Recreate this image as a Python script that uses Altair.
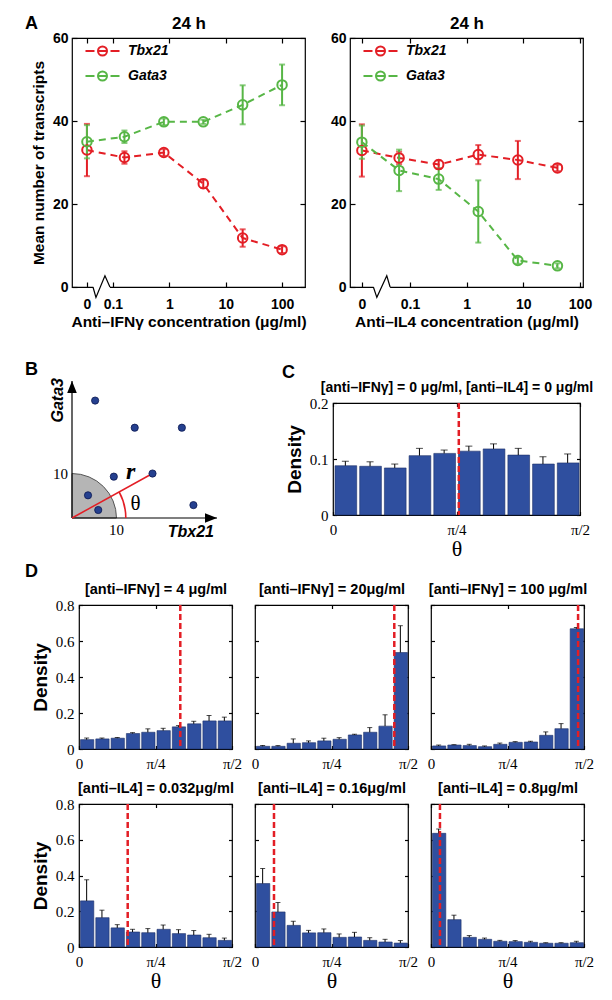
import math
import altair as alt
import pandas as pd

SANS = "Liberation Sans"
SERIF = "Liberation Serif"
RED = "#e31e25"
GREEN = "#57b646"
BLUE = "#2f4f9f"
BLUE_EDGE = "#1c2f66"
DOT = "#25408f"
PI = math.pi

# ---------------- Panel A data ----------------
genes = ["Tbx21", "Gata3"]
gene_colors = [RED, GREEN]
ifng_conc = [0, 0.16, 0.8, 4, 20, 100]
ifng_tbx21 = [33.0, 31.2, 32.4, 24.9, 11.8, 9.0]
ifng_tbx21_err = [6.3, 1.5, 0.8, 1.0, 2.1, 0.8]
ifng_gata3 = [35.0, 36.2, 39.8, 39.8, 43.9, 48.7]
ifng_gata3_err = [4.0, 1.5, 0.8, 0.5, 4.7, 4.9]

il4_conc = [0, 0.064, 0.32, 1.6, 8, 40]
il4_tbx21 = [32.9, 31.1, 29.5, 31.9, 30.6, 28.7]
il4_tbx21_err = [6.3, 1.5, 1.0, 2.3, 4.6, 0.8]
il4_gata3 = [34.9, 28.1, 26.0, 18.2, 6.4, 5.1]
il4_gata3_err = [4.0, 5.0, 2.6, 7.5, 0.8, 0.6]

a_xticks = [0.1, 1, 10, 100]
a_yticks = [0, 20, 40, 60]
# position of the "0" concentration on the broken log axis, and axis extents
ifng_zero, ifng_xdomain = 0.0346, [0.0188, 255]
il4_zero, il4_xdomain = 0.0141, [0.0087, 113]
# zig-zag axis break
ifng_break_x = [0.0443, 0.050, 0.0722, 0.0885]
il4_break_x = [0.0225, 0.0259, 0.0388, 0.0444]
break_y = [0, -2.5, 2.7, 0]

# ---------------- Panel B data (schematic) ----------------
b_cell_x = [5.2, 14.1, 24.7, 9.4, 18.1, 3.6, 5.9, 27.3]
b_cell_y = [26.4, 20.3, 20.3, 9.3, 10.0, 5.1, 1.8, 2.9]
b_r_cell = [18.1, 10.0]
b_x_end, b_y_end = 32.6, 30.8
b_disc_radius = 10
b_arc_radius = 12.1

# ---------------- Panels C and D data ----------------
c_density = [0.088, 0.087, 0.084, 0.106, 0.110, 0.114, 0.118, 0.107, 0.091, 0.093]
c_err = [0.008, 0.008, 0.007, 0.013, 0.006, 0.009, 0.009, 0.012, 0.013, 0.016]
c_mode = 0.80

d_titles = ["[anti–IFNγ] = 4 μg/ml", "[anti–IFNγ] = 20μg/ml", "[anti–IFNγ] = 100 μg/ml",
            "[anti–IL4] = 0.032μg/ml", "[anti–IL4] = 0.16μg/ml", "[anti–IL4] = 0.8μg/ml"]
d_density = [
    [0.052, 0.056, 0.060, 0.086, 0.093, 0.102, 0.123, 0.140, 0.156, 0.156],
    [0.015, 0.015, 0.032, 0.035, 0.045, 0.054, 0.078, 0.093, 0.127, 0.536],
    [0.017, 0.022, 0.019, 0.013, 0.026, 0.037, 0.039, 0.076, 0.113, 0.668],
    [0.258, 0.164, 0.107, 0.084, 0.080, 0.099, 0.075, 0.067, 0.052, 0.037],
    [0.355, 0.196, 0.121, 0.079, 0.080, 0.054, 0.056, 0.037, 0.028, 0.022],
    [0.636, 0.153, 0.054, 0.043, 0.032, 0.030, 0.026, 0.021, 0.021, 0.024],
]
d_err = [
    [0.009, 0.005, 0.004, 0.005, 0.019, 0.013, 0.007, 0.014, 0.030, 0.021],
    [0.005, 0.004, 0.024, 0.010, 0.015, 0.009, 0.004, 0.026, 0.063, 0.149],
    [0.005, 0.002, 0.007, 0.004, 0.007, 0.004, 0.004, 0.019, 0.028, 0.007],
    [0.118, 0.042, 0.018, 0.015, 0.023, 0.024, 0.022, 0.025, 0.019, 0.013],
    [0.084, 0.053, 0.023, 0.014, 0.021, 0.019, 0.026, 0.015, 0.015, 0.014],
    [0.024, 0.025, 0.010, 0.007, 0.005, 0.006, 0.006, 0.003, 0.003, 0.008],
]
d_mode = [1.04, 1.43, 1.51, 0.50, 0.195, 0.092]

theta_ticks = [0, PI / 4, PI / 2]
theta_expr = "datum.value < 0.1 ? '0' : (datum.value < 1 ? 'π/4' : 'π/2')"


def letter(text, dx, dy):
    return alt.TitleParams(text=text, anchor="start", frame="group", dx=dx, dy=dy, offset=0,
                           baseline="alphabetic", font=SANS, fontSize=18, fontWeight="bold",
                           color="black")


# ---------------- Panel A ----------------
TA = 5
LEG_PATH = "M-3.78,0L-1.78,0M1.78,0L3.78,0M-1,0L1,0M-1,0A1,1,0,1,1,1,0A1,1,0,1,1,-1,0"


def a_panel(conc, zero, xdomain, tbx, tbx_e, gata, gata_e, brk_x, xtitle, ytitle, title=None):
    rows, caps = [], []
    for gene, m_list, e_list in (("Tbx21", tbx, tbx_e), ("Gata3", gata, gata_e)):
        for c, m, e in zip(conc, m_list, e_list):
            x = c if c > 0 else zero
            rows.append({"x": x, "gene": gene, "m": m, "lo": m - e, "hi": m + e})
            caps.append({"x": x, "gene": gene, "y": m - e})
            caps.append({"x": x, "gene": gene, "y": m + e})
    df = pd.DataFrame(rows)
    dfc = pd.DataFrame(caps)
    dfb = pd.DataFrame({"x": brk_x, "y": break_y, "i": list(range(len(brk_x)))})
    dfm = pd.DataFrame({"x": [brk_x[0], brk_x[-1]], "y": [0, 0], "i": [0, 1]})

    xs = alt.Scale(type="log", domain=xdomain, nice=False)
    ys = alt.Scale(domain=[0, 60], nice=False, zero=False)
    cs = alt.Scale(domain=genes, range=gene_colors)
    tickvals = [zero] + a_xticks
    label_expr = ("datum.value < 0.05 ? '0' : datum.value < 0.5 ? '0.1' : "
                  "datum.value < 5 ? '1' : datum.value < 50 ? '10' : '100'")
    x_bottom = alt.Axis(values=tickvals, labelExpr=label_expr, domain=False, grid=False,
                        tickSize=TA, offset=-TA, labelFont=SANS, labelFontSize=14,
                        labelFontWeight="bold", labelPadding=10, title=xtitle, titleFont=SANS,
                        titleFontSize=15.5, titleFontWeight="bold", titlePadding=3)
    x_top = alt.Axis(orient="top", values=tickvals, labels=False, domain=False, grid=False,
                     tickSize=TA, offset=-TA, title="24 h", titleFont=SANS, titleFontSize=17,
                     titleFontWeight="bold", titlePadding=5)
    y_left = alt.Axis(values=a_yticks, domain=False, grid=False, tickSize=TA, offset=-TA,
                      labelFont=SANS, labelFontSize=14, labelFontWeight="bold", labelPadding=4,
                      title=ytitle, titleFont=SANS, titleFontSize=15.5, titleFontWeight="bold",
                      titlePadding=6)
    y_right = alt.Axis(orient="right", values=a_yticks, labels=False, domain=False, grid=False,
                       tickSize=TA, offset=-TA, title=None)
    legend = alt.Legend(
        title=None, orient="none", legendX=23.5, legendY=6, padding=0, rowPadding=7,
        labelOffset=18.5, labelFont=SANS, labelFontSize=14, labelFontWeight="bold",
        labelFontStyle="italic", labelColor="black", symbolType=LEG_PATH, symbolSize=81,
        symbolStrokeWidth=2, symbolFillColor="transparent", symbolOpacity=1)

    layers = [
        # white gap in the frame where the axis is broken (carries the mirrored top/right ticks)
        alt.Chart(dfm).mark_line(color="white", strokeWidth=4).encode(
            x=alt.X("x:Q", scale=xs, axis=x_top), y=alt.Y("y:Q", scale=ys, axis=y_right),
            order="i:Q"),
        alt.Chart(dfb).mark_line(color="black", strokeWidth=1.2).encode(
            x=alt.X("x:Q", scale=xs, axis=None), y=alt.Y("y:Q", scale=ys, axis=None),
            order="i:Q"),
    ]
    for gene, col in zip(genes, gene_colors):
        dg = df[df["gene"] == gene]
        dcg = dfc[dfc["gene"] == gene]
        layers.append(alt.Chart(dg).mark_line(color=col, strokeDash=[7, 5], strokeWidth=2).encode(
            x=alt.X("x:Q", scale=xs, axis=None), y=alt.Y("m:Q", scale=ys, axis=None)))
        layers.append(alt.Chart(dg).mark_rule(color=col, strokeWidth=2).encode(
            x=alt.X("x:Q", scale=xs, axis=None), y=alt.Y("lo:Q", scale=ys, axis=None),
            y2="hi:Q"))
        layers.append(alt.Chart(dcg).mark_tick(color=col, orient="horizontal", size=6,
                                               thickness=2).encode(
            x=alt.X("x:Q", scale=xs, axis=None), y=alt.Y("y:Q", scale=ys, axis=None)))
    layers.append(alt.Chart(df).mark_point(size=90, strokeWidth=2, filled=False,
                                           opacity=1).encode(
        x=alt.X("x:Q", scale=xs, axis=x_bottom), y=alt.Y("m:Q", scale=ys, axis=y_left),
        color=alt.Color("gene:N", scale=cs, legend=legend)))
    ch = alt.layer(*layers).resolve_axis(x="independent", y="independent")
    props = dict(width=233, height=249)
    if title is not None:
        props["title"] = title
    return ch.properties(**props)


a_left = a_panel(ifng_conc, ifng_zero, ifng_xdomain, ifng_tbx21, ifng_tbx21_err, ifng_gata3,
                 ifng_gata3_err, ifng_break_x, "Anti–IFNγ concentration (μg/ml)",
                 "Mean number of transcripts", title=letter("A", -47, 33))
a_right = a_panel(il4_conc, il4_zero, il4_xdomain, il4_tbx21, il4_tbx21_err, il4_gata3,
                  il4_gata3_err, il4_break_x, "Anti–IL4 concentration (μg/ml)", None)
row_a = alt.hconcat(a_left, a_right, spacing=45, bounds="flush").resolve_scale(
    x="independent", y="independent", color="independent").resolve_legend(color="independent")

# ---------------- Panel B ----------------
B_W, B_H = 145, 115
PX = B_W / b_x_end
bxs = alt.Scale(domain=[0, b_x_end], nice=False, zero=False)
bys = alt.Scale(domain=[0, B_H / PX], nice=False, zero=False)
BX = dict(scale=bxs, axis=None)
BY = dict(scale=bys, axis=None)
origin = pd.DataFrame({"x": [0], "y": [0]})
r_ang = math.atan2(b_r_cell[1], b_r_cell[0])

disc = alt.Chart(origin).mark_arc(theta=0, theta2=PI / 2, radius=b_disc_radius * PX,
                                  fill="#b5b5b5", stroke="#555555", strokeWidth=1).encode(
    x=alt.X("x:Q", **BX), y=alt.Y("y:Q", **BY))
arc_theta = alt.Chart(origin).mark_arc(theta=PI / 2 - r_ang, theta2=PI / 2,
                                       radius=b_arc_radius * PX + 0.8,
                                       radius2=b_arc_radius * PX - 0.8, fill=RED).encode(
    x=alt.X("x:Q", **BX), y=alt.Y("y:Q", **BY))
axes_df = pd.DataFrame({"x": [0, 0], "y": [0, 0], "x2": [b_x_end, 0], "y2": [0, b_y_end]})
axes_lines = alt.Chart(axes_df).mark_rule(color="black", strokeWidth=1.2).encode(
    x=alt.X("x:Q", **BX), y=alt.Y("y:Q", **BY), x2="x2:Q", y2="y2:Q")
arrow_r = alt.Chart(pd.DataFrame({"x": [b_x_end], "y": [0]})).mark_point(
    shape="M0,0L-2,-0.8L-2,0.8Z", filled=True, fill="black", size=144, strokeWidth=0,
    opacity=1).encode(x=alt.X("x:Q", **BX), y=alt.Y("y:Q", **BY))
arrow_u = alt.Chart(pd.DataFrame({"x": [0], "y": [b_y_end]})).mark_point(
    shape="M0,0L-0.8,2L0.8,2Z", filled=True, fill="black", size=144, strokeWidth=0,
    opacity=1).encode(x=alt.X("x:Q", **BX), y=alt.Y("y:Q", **BY))
r_line = alt.Chart(pd.DataFrame({"x": [0], "y": [0], "x2": [b_r_cell[0]], "y2": [b_r_cell[1]]})
                   ).mark_rule(color=RED, strokeWidth=1.5).encode(
    x=alt.X("x:Q", **BX), y=alt.Y("y:Q", **BY), x2="x2:Q", y2="y2:Q")
cells = alt.Chart(pd.DataFrame({"x": b_cell_x, "y": b_cell_y})).mark_circle(
    size=52, color=DOT, stroke="#0b1850", strokeWidth=0.8, opacity=1).encode(
    x=alt.X("x:Q", **BX), y=alt.Y("y:Q", **BY))


def btext(x, y, text, **kw):
    return alt.Chart(pd.DataFrame({"x": [x], "y": [y], "t": [text]})).mark_text(
        color="black", **kw).encode(x=alt.X("x:Q", **BX), y=alt.Y("y:Q", **BY), text="t:N")


t_y10 = btext(0, b_disc_radius, "10", font=SERIF, fontSize=15, align="right",
              baseline="middle", dx=-4)
t_x10 = btext(b_disc_radius, 0, "10", font=SERIF, fontSize=15, align="center",
              baseline="middle", dy=12)
t_r = btext(13.2, 10.4, "r", font=SERIF, fontSize=24, fontStyle="italic", fontWeight="bold",
            align="center", baseline="middle")
t_theta = btext(14.3, 3.2, "θ", font=SERIF, fontSize=21, align="center", baseline="middle")
t_tbx = btext(b_x_end, 0, "Tbx21", font=SANS, fontSize=16, fontStyle="italic",
              fontWeight="bold", align="right", baseline="middle", dx=-3, dy=14)
# offsets of the rotated label are applied in its own (rotated) frame
t_gata = btext(0, b_y_end, "Gata3", font=SANS, fontSize=16, fontStyle="italic",
               fontWeight="bold", align="right", baseline="alphabetic", angle=270,
               dx=3, dy=-9)

panel_b = alt.layer(disc, axes_lines, arrow_r, arrow_u, arc_theta, r_line, cells,
                    t_y10, t_x10, t_r, t_theta, t_tbx, t_gata).properties(
    width=B_W, height=B_H, title=letter("B", -47, 15),
    view=alt.ViewBackground(strokeOpacity=0, strokeWidth=0))

# ---------------- Panels C and D ----------------
TB = 3.5


def bar_panel(vals, errs, mode, w, h, ymax, yticks, top_title, left_labels, y_title, x_title,
              title=None, cap_size=5, bin_gap=2, top_size=14.5):
    n = len(vals)
    step = (PI / 2) / n
    df = pd.DataFrame({"lo": [i * step for i in range(n)],
                       "hi": [(i + 1) * step for i in range(n)],
                       "mid": [(i + 0.5) * step for i in range(n)],
                       "v": vals,
                       "top": [v + e for v, e in zip(vals, errs)]})
    xs = alt.Scale(domain=[0, PI / 2], nice=False, zero=False)
    ys = alt.Scale(domain=[0, ymax], nice=False, zero=False)
    xb = alt.Axis(values=theta_ticks, labelExpr=theta_expr, labelFont=SERIF, labelFontSize=15,
                  labelPadding=7, tickSize=TB, offset=-TB, domain=False, grid=False,
                  title=x_title, titleFont=SERIF, titleFontSize=22, titleFontWeight="normal",
                  titlePadding=1)
    xt = alt.Axis(orient="top", values=theta_ticks, labels=False, tickSize=TB, offset=-TB,
                  domain=False, grid=False, title=top_title, titleFont=SANS,
                  titleFontSize=top_size, titleFontWeight="bold", titlePadding=8)
    yl = alt.Axis(values=yticks, format="~g", labels=left_labels, labelFont=SERIF,
                  labelFontSize=15, labelPadding=5, tickSize=TB, offset=-TB, domain=False,
                  grid=False, title=y_title, titleFont=SANS, titleFontSize=19,
                  titleFontWeight="bold", titlePadding=5)
    yr = alt.Axis(orient="right", values=yticks, labels=False, tickSize=TB, offset=-TB,
                  domain=False, grid=False, title=None)
    bars = alt.Chart(df).mark_bar(fill=BLUE, stroke=BLUE_EDGE, strokeWidth=0.6,
                                  binSpacing=bin_gap).encode(
        x=alt.X("lo:Q", bin="binned", scale=xs, axis=xb), x2="hi:Q",
        y=alt.Y("v:Q", scale=ys, axis=yl))
    err = alt.Chart(df).mark_rule(color="black", strokeWidth=1).encode(
        x=alt.X("mid:Q", scale=xs, axis=None), y=alt.Y("v:Q", scale=ys, axis=None), y2="top:Q")
    caps = alt.Chart(df).mark_tick(orient="horizontal", color="black", size=cap_size,
                                   thickness=1).encode(
        x=alt.X("mid:Q", scale=xs, axis=xt), y=alt.Y("top:Q", scale=ys, axis=yr))
    rule = alt.Chart(pd.DataFrame({"m": [mode]})).mark_rule(
        color=RED, strokeDash=[6, 3], strokeWidth=2.5).encode(
        x=alt.X("m:Q", scale=xs, axis=None))
    ch = alt.layer(bars, err, caps, rule).resolve_axis(x="independent", y="independent")
    props = dict(width=w, height=h)
    if title is not None:
        props["title"] = title
    return ch.properties(**props)


panel_c = bar_panel(c_density, c_err, c_mode, 247, 112, 0.2, [0, 0.1, 0.2],
                    "[anti–IFNγ] = 0 μg/ml, [anti–IL4] = 0 μg/ml", True, "Density", "θ",
                    title=letter("C", -51, 16), cap_size=7, bin_gap=3, top_size=14)

row_bc = alt.hconcat(panel_b, panel_c, spacing=116, bounds="flush").resolve_scale(
    x="independent", y="independent")

d_panels = []
for k in range(6):
    first_col = (k % 3 == 0)
    bottom = k >= 3
    d_panels.append(bar_panel(
        d_density[k], d_err[k], d_mode[k], 153, 144 if not bottom else 143, 0.8,
        [0, 0.2, 0.4, 0.6, 0.8], d_titles[k], first_col,
        "Density" if first_col else None, "θ" if bottom else None,
        title=letter("D", -54, 14) if k == 0 else None, cap_size=5, bin_gap=2))

grid_d = alt.concat(*d_panels, columns=3, spacing={"row": 55, "column": 23},
                    bounds="flush").resolve_scale(x="independent", y="independent")

# invisible narrow view that indents panel D relative to panels A-C
spacer = alt.Chart(pd.DataFrame({"s": [0]})).mark_point(opacity=0).encode(
    x=alt.X("s:Q", axis=None), y=alt.Y("s:Q", axis=None)).properties(
    width=7, height=1, view=alt.ViewBackground(strokeOpacity=0, strokeWidth=0))
row_d = alt.hconcat(spacer, grid_d, spacing=0, bounds="flush").resolve_scale(
    x="independent", y="independent")

chart = alt.vconcat(
    row_a,
    alt.vconcat(row_bc, row_d, spacing=2),
    spacing=30,
).properties(
    padding={"left": 16, "top": 5, "right": 5, "bottom": 5},
    background="white",
).configure_view(
    stroke="black", strokeWidth=1.2
).configure_axis(
    labelColor="black", titleColor="black", tickColor="black", tickWidth=1.2,
    labelFlush=False, labelOverlap=False
).configure_title(color="black")

chart.save("out.html", embed_options={"renderer": "svg", "actions": False})
